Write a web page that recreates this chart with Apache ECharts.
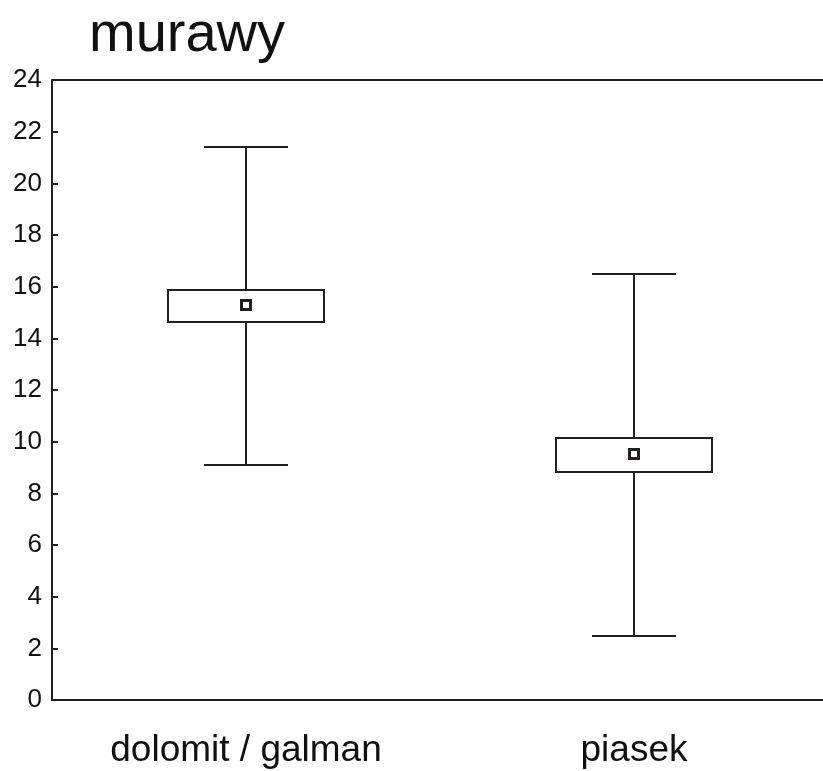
<!DOCTYPE html>
<html>
<head>
<meta charset="utf-8">
<script src="https://cdn.jsdelivr.net/npm/echarts@6/dist/echarts.min.js"></script>
<style>
  html, body { margin: 0; padding: 0; background: #fff; }
  #chart { width: 823px; height: 771px; }
</style>
</head>
<body>
<div id="chart"></div>
<script>
const categories = ["dolomit / galman", "piasek"];
const whiskerLow = [9.1, 2.48];
const boxLow = [14.63, 8.83];
const means = [15.29, 9.52];
const boxHigh = [15.87, 10.14];
const whiskerHigh = [21.41, 16.49];
const yTicks = [0, 2, 4, 6, 8, 10, 12, 14, 16, 18, 20, 22, 24];

const ink = "#231f20";
const chart = echarts.init(document.getElementById("chart"));

const seriesData = categories.map((c, i) => [i, whiskerLow[i], boxLow[i], means[i], boxHigh[i], whiskerHigh[i]]);

function renderBox(params, api) {
    const x = api.value(0);
    const pLow = api.coord([x, api.value(1)]);
    const pQ1 = api.coord([x, api.value(2)]);
    const pMean = api.coord([x, api.value(3)]);
    const pQ3 = api.coord([x, api.value(4)]);
    const pHigh = api.coord([x, api.value(5)]);
    const cx = pLow[0];
    const boxHalf = 78;
    const capHalf = 42;
    const line = { stroke: ink, lineWidth: 2 };
    return {
        type: "group",
        children: [
            { type: "line", shape: { x1: cx, y1: pHigh[1], x2: cx, y2: pQ3[1] }, style: line },
            { type: "line", shape: { x1: cx, y1: pQ1[1], x2: cx, y2: pLow[1] }, style: line },
            { type: "line", shape: { x1: cx - capHalf, y1: pHigh[1], x2: cx + capHalf, y2: pHigh[1] }, style: line },
            { type: "line", shape: { x1: cx - capHalf, y1: pLow[1], x2: cx + capHalf, y2: pLow[1] }, style: line },
            { type: "rect", shape: { x: cx - boxHalf, y: pQ3[1], width: boxHalf * 2, height: pQ1[1] - pQ3[1] },
              style: { fill: "#fff", stroke: ink, lineWidth: 2 } },
            { type: "rect", shape: { x: cx - 4.5, y: pMean[1] - 4.5, width: 9, height: 9 },
              style: { fill: "#fff", stroke: ink, lineWidth: 3 } }
        ]
    };
}

chart.setOption({
    backgroundColor: "#fff",
    animation: false,
    title: {
        text: "murawy",
        left: 84,
        top: 3,
        textStyle: { fontFamily: "Liberation Sans", fontSize: 56, fontWeight: "normal", color: "#111" }
    },
    grid: { left: 52, top: 80, right: -5, bottom: 71, containLabel: false, outerBoundsMode: "none" },
    xAxis: {
        type: "category",
        data: categories,
        boundaryGap: true,
        axisLine: { lineStyle: { color: ink, width: 2 } },
        axisTick: { inside: true, length: 6, alignWithLabel: true, lineStyle: { color: ink, width: 2 } },
        axisLabel: { fontFamily: "Liberation Sans", fontSize: 37, color: "#111", margin: 32 },
        splitLine: { show: false }
    },
    yAxis: {
        type: "value",
        min: 0,
        max: 24,
        interval: 2,
        axisLine: { show: true, lineStyle: { color: ink, width: 2 } },
        axisTick: { show: true, inside: true, length: 6, lineStyle: { color: ink, width: 2 } },
        axisLabel: {
            fontFamily: "Liberation Sans", fontSize: 26, color: "#111", margin: 10,
            formatter: v => yTicks.includes(v) ? String(v) : ""
        },
        splitLine: { show: false }
    },
    series: [{
        type: "custom",
        renderItem: renderBox,
        encode: { x: 0, y: [1, 2, 3, 4, 5] },
        data: seriesData
    }, {
        type: "line",
        data: [],
        markLine: {
            silent: true,
            symbol: "none",
            label: { show: false },
            lineStyle: { color: ink, width: 2, type: "solid" },
            data: [{ yAxis: 24 }]
        }
    }]
});
</script>
</body>
</html>
